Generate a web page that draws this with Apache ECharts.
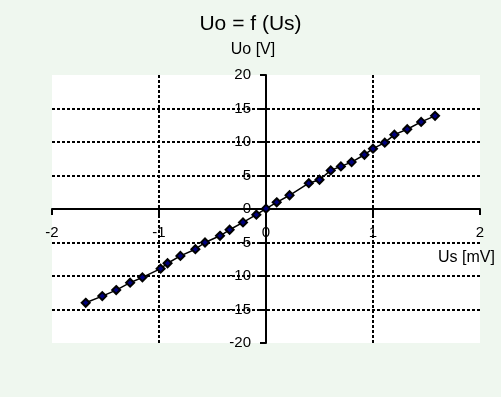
<!DOCTYPE html>
<html>
<head>
<meta charset="utf-8">
<script src="https://cdn.jsdelivr.net/npm/echarts@6/dist/echarts.min.js"></script>
<style>
html,body{margin:0;padding:0;background:#eff7ef;}
#c{width:501px;height:397px;}
</style>
</head>
<body>
<div id="c"></div>
<script>
var titleText = 'Uo = f (Us)';
var xName = 'Us [mV]';
var yName = 'Uo [V]';
var usValues = [-1.685, -1.53, -1.40, -1.27, -1.155, -0.985, -0.92, -0.80, -0.66, -0.57, -0.43, -0.34, -0.215, -0.09, 0, 0.10, 0.22, 0.40, 0.50, 0.605, 0.70, 0.80, 0.92, 1.0, 1.11, 1.20, 1.32, 1.45, 1.58];
var uoValues = [-14.0, -13.0, -12.1, -11.0, -10.2, -8.9, -8.1, -7.0, -6.0, -5.0, -4.0, -3.1, -2.0, -0.85, 0.05, 1.0, 2.05, 3.85, 4.36, 5.76, 6.36, 7.0, 8.1, 9.0, 9.9, 11.1, 11.9, 13.0, 13.9];
var xTicks = [-2, -1, 0, 1, 2];
var yTicks = [-20, -15, -10, -5, 0, 5, 10, 15, 20];

var data = usValues.map(function (v, i) { return [v, uoValues[i]]; });
var font = "'Liberation Sans', Arial, sans-serif";
var chart = echarts.init(document.getElementById('c'), null, {renderer: 'canvas'});
chart.setOption({
  backgroundColor: '#eff7ef',
  animation: false,
  title: {
    text: titleText, left: 'center', top: 9,
    textStyle: {fontFamily: font, fontSize: 21, fontWeight: 'normal', color: '#000'}
  },
  graphic: [
    {type: 'rect', left: 52, top: 75, shape: {width: 428, height: 268}, style: {fill: '#ffffff'}, z: -10, silent: true},
    {type: 'text', x: 253, y: 50, style: {text: yName, font: '16px ' + font, fill: '#000', align: 'center', verticalAlign: 'middle'}},
    {type: 'text', x: 438, y: 258, style: {text: xName, font: '16px ' + font, fill: '#000', align: 'left', verticalAlign: 'middle'}}
  ],
  grid: {left: 52, right: 21, top: 75, bottom: 54, show: false},
  xAxis: {
    type: 'value', min: xTicks[0], max: xTicks[xTicks.length - 1], interval: 1,
    offset: -134,
    axisLine: {onZero: false, lineStyle: {color: '#000', width: 2}},
    axisTick: {show: true, length: 6, lineStyle: {color: '#000', width: 2}},
    axisLabel: {margin: 16, fontFamily: font, fontSize: 15, color: '#000'},
    splitLine: {show: true, showMinLine: false, showMaxLine: false, lineStyle: {color: '#000', type: [3, 2], width: 2}}
  },
  yAxis: {
    type: 'value', min: yTicks[0], max: yTicks[yTicks.length - 1], interval: 5,
    offset: -214,
    axisLine: {onZero: false, lineStyle: {color: '#000', width: 2}},
    axisTick: {show: true, length: 6, lineStyle: {color: '#000', width: 2}},
    axisLabel: {margin: 15, fontFamily: font, fontSize: 15, color: '#000'},
    splitLine: {show: true, showMinLine: false, showMaxLine: false, lineStyle: {color: '#000', type: [3, 2], width: 2}}
  },
  series: [{
    type: 'line', data: data,
    symbol: 'diamond', symbolSize: 8,
    lineStyle: {color: '#000', width: 1.5},
    itemStyle: {color: '#000080', borderColor: '#000', borderWidth: 2},
    z: 5
  }]
});
</script>
</body>
</html>
